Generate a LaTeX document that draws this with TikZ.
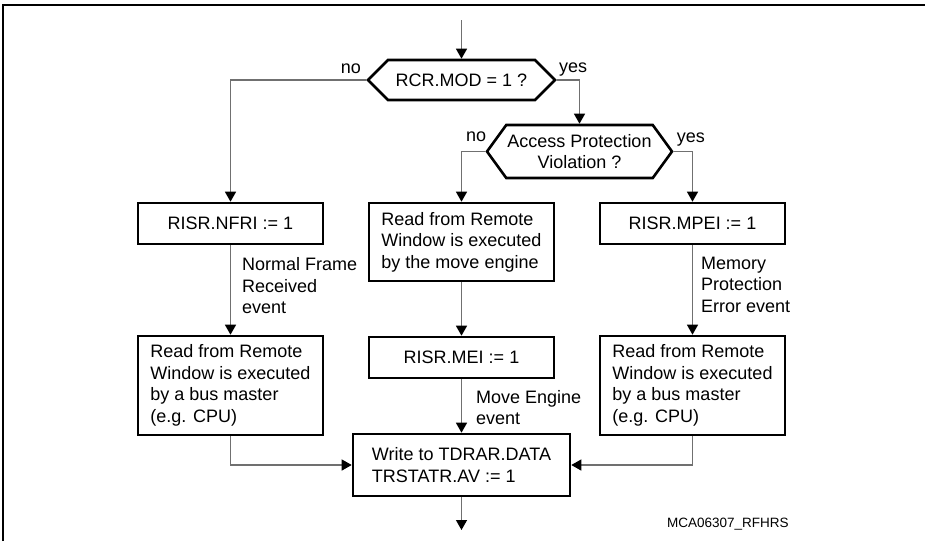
\documentclass[tikz,border=0pt]{standalone}
\usepackage{fontspec}
\setmainfont{Liberation Sans}
\usetikzlibrary{arrows.meta,positioning,shapes.symbols,calc}
\definecolor{flowink}{HTML}{000000}
\definecolor{flowgray}{HTML}{707070}
\tikzset{
  box/.style={draw=flowink, line width=2.6pt, inner sep=0pt, align=left, minimum width=185pt},
  dec/.style={signal, signal to=west and east, draw=flowink, line width=2.6pt, inner sep=0pt, align=center},
  lbl/.style={inner sep=0pt, align=left},
  arr/.style={-{Triangle[length=10pt,width=11pt,color=black]}, line width=1.3pt, color=flowgray},
  wire/.style={line width=1.3pt, color=flowgray},
}
\begin{document}
\begin{tikzpicture}[x=1pt,y=-1pt,font=\fontsize{18}{21.5}\selectfont]
  \useasboundingbox (0,0) rectangle (925,541);
  % page frame, only top and left edge visible
  \draw[line width=1.5pt] (3,541) -- (3,5) -- (925,5);
  % decisions
  \node[dec, minimum width=187pt, minimum height=40pt, signal pointer angle=90] (qmod) at (461.5,80) {RCR.MOD = 1 ?};
  \node[dec, minimum width=185pt, minimum height=53pt, signal pointer angle=108] (qacc) at (579.5,151.5) {Access Protection\\Violation ?};
  % actions
  \node[box, minimum height=41pt] (nfri) at (230.5,223.5) {RISR.NFRI := 1};
  \node[box, minimum height=99pt] (rdbus) at (230.5,385.5) {Read from Remote\\Window is executed\\by a bus master\\(e.g. CPU)};
  \node[box, minimum height=78pt] (rdmove) at (461.5,242) {Read from Remote\\Window is executed\\by the move engine};
  \node[box, minimum height=41pt] (mei) at (461.5,357.5) {RISR.MEI := 1};
  \node[box, minimum height=41pt] (mpei) at (692.5,223.5) {RISR.MPEI := 1};
  \node[box, minimum height=99pt] (rdbusr) at (692.5,385.5) {Read from Remote\\Window is executed\\by a bus master\\(e.g. CPU)};
  \node[box, minimum width=217pt, minimum height=62pt] (wrtd) at (461.5,465) {Write to TDRAR.DATA\\TRSTATR.AV := 1};
  \coordinate (entry) at (461.5,20);
  \coordinate (exit) at (461.5,530);
  % connectors
  \draw[arr] (entry) -- (qmod.north);
  \draw[arr] (qmod.west) -| (nfri.north);
  \draw[arr] (qmod.east) -| (qacc.north);
  \draw[arr] (qacc.west) -| (rdmove.north);
  \draw[arr] (qacc.east) -| (mpei.north);
  \draw[arr] (nfri) -- (rdbus);
  \draw[arr] (rdmove) -- (mei);
  \draw[arr] (mpei) -- (rdbusr);
  \draw[arr] (mei) -- (wrtd);
  \draw[arr] (rdbus.south) |- (wrtd.west);
  \draw[arr] (rdbusr.south) |- (wrtd.east);
  \draw[arr] (wrtd) -- (exit);
  % branch labels
  \node[lbl, anchor=base east] at ($(qmod.west)+(-5,-7)$) {no};
  \node[lbl, anchor=base west] at ($(qmod.east)+(2,-8)$) {yes};
  \node[lbl, anchor=base east] at ($(qacc.west)+(1,-10)$) {no};
  \node[lbl, anchor=base west] at ($(qacc.east)+(3,-9)$) {yes};
  % event labels
  \node[lbl, anchor=north west] at ($(nfri.south)+(11.5,12)$) {Normal Frame\\Received\\event};
  \node[lbl, anchor=north west] at ($(mei.south)+(14.5,10.5)$) {Move Engine\\event};
  \node[lbl, anchor=north west] at ($(mpei.south)+(8.5,11.5)$) {Memory\\Protection\\Error event};
  \node[lbl, anchor=base west, font=\fontsize{13.5}{16}\selectfont] at (667,527) {MCA06307\_RFHRS};
\end{tikzpicture}
\end{document}
